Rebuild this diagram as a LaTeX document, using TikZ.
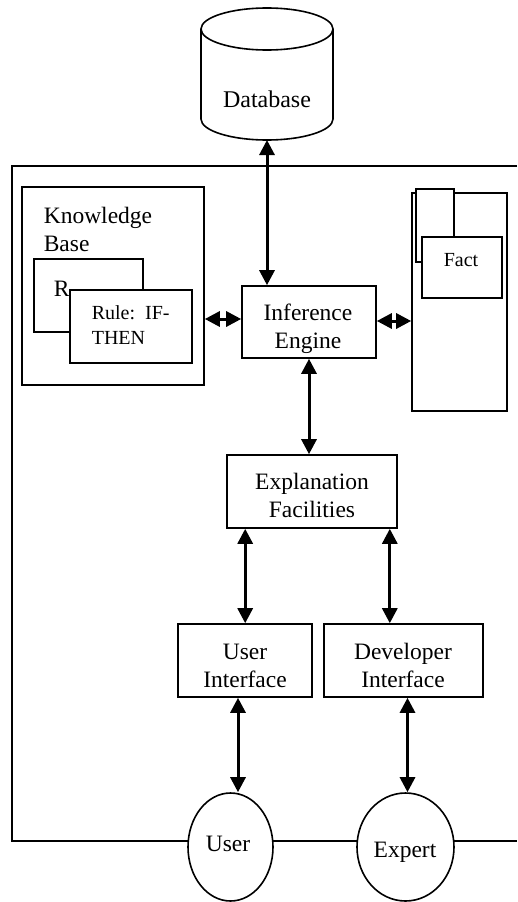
\documentclass[tikz,border=0pt]{standalone}
\usepackage{fontspec}
\setmainfont{Liberation Serif}
\usepackage{tikz}
\usetikzlibrary{arrows.meta,shapes.geometric}
\tikzset{
every picture/.style={
line width=1.6pt
}}
\tikzset{
  box/.style={draw, rectangle, fill=white, inner sep=0pt},
  lbl/.style={inner sep=0pt, align=center, font=\fontsize{23.5}{28}\selectfont},
  biarrow/.style={{Triangle[length=15pt,width=15pt]}-{Triangle[length=15pt,width=15pt]}, line width=3pt}
}

\begin{document}
\begin{tikzpicture}[x=1pt,y=-1pt]
  \useasboundingbox (0,0) rectangle (517,902);

  \draw (517,166) -- (12,166) -- (12,841) -- (517,841);

  \draw (267,29) ellipse [x radius=66, y radius=21];
  \draw (201,29) -- (201,119) arc[start angle=180, end angle=0, x radius=66, y radius=21] -- (333,29);
  \coordinate (db) at (267,140);
  \node[lbl, font=\fontsize{24}{28}\selectfont] (dbtext) at (267,99) {Database};

  \node[box, fill=none, minimum width=182, minimum height=198] (kb) at (113,286) {};
  \node[lbl, align=left, anchor=north west] (kbtext) at (43,206) {Knowledge\\Base};
  \node[box, minimum width=109, minimum height=73] (ruleback) at (88.5,295.5) {};
  \node[lbl, anchor=base west] (rtext) at (53,296) {R};
  \node[box, minimum width=122, minimum height=73] (rulefront) at (131,326.5) {};
  \node[lbl, align=left, anchor=north west, font=\fontsize{20}{25}\selectfont] (ruletext) at (91,305) {Rule:\ \ IF-\\THEN};

  \node[box, minimum width=95, minimum height=218] (facts) at (459.5,302) {};
  \node[box, minimum width=38, minimum height=73] (factback) at (435,225.5) {};
  \node[box, minimum width=80, minimum height=61] (fact) at (462,267.5) {};
  \node[lbl, font=\fontsize{20}{25}\selectfont] (facttext) at (461,260) {Fact};

  \node[box, minimum width=134, minimum height=72] (ie) at (309,322) {};
  \node[lbl] (ietext) at (308,329) {Inference\\Engine};

  \node[box, minimum width=170, minimum height=73] (ex) at (312,491.5) {};
  \node[lbl] (extext) at (312,495.5) {Explanation\\Facilities};

  \node[box, minimum width=134, minimum height=73] (ui) at (245,660.5) {};
  \node[lbl] (uitext) at (245,665.5) {User\\Interface};
  \node[box, minimum width=159, minimum height=73] (dev) at (403.5,660.5) {};
  \node[lbl] (devtext) at (403,665.5) {Developer\\Interface};

  \node[ellipse, draw, fill=white, minimum width=85, minimum height=108, inner sep=0pt] (user) at (230.5,847) {};
  \node[lbl] (usertext) at (228,844) {User};
  \node[ellipse, draw, fill=white, minimum width=97, minimum height=108, inner sep=0pt] (expert) at (405.5,847) {};
  \node[lbl] (experttext) at (405,852) {Expert};

  \draw[biarrow] (db) -- (db |- ie.north);
  \draw[biarrow] ([yshift=3]ie.west) -- ([yshift=3]ie.west -| kb.east);
  \draw[biarrow] ([yshift=1]ie.east) -- ([yshift=1]ie.east -| facts.west);
  \draw[biarrow] (ie.south) -- (ie.south |- ex.north);
  \draw[biarrow] ([xshift=19]ex.south west) -- ([xshift=19]ex.south west |- ui.north);
  \draw[biarrow] ([xshift=-8]ex.south east) -- ([xshift=-8]ex.south east |- dev.north);
  \draw[biarrow] ([xshift=-7]ui.south) -- ([xshift=-7]ui.south |- user.north);
  \draw[biarrow] ([xshift=4]dev.south) -- ([xshift=4]dev.south |- expert.north);
\end{tikzpicture}
\end{document}
